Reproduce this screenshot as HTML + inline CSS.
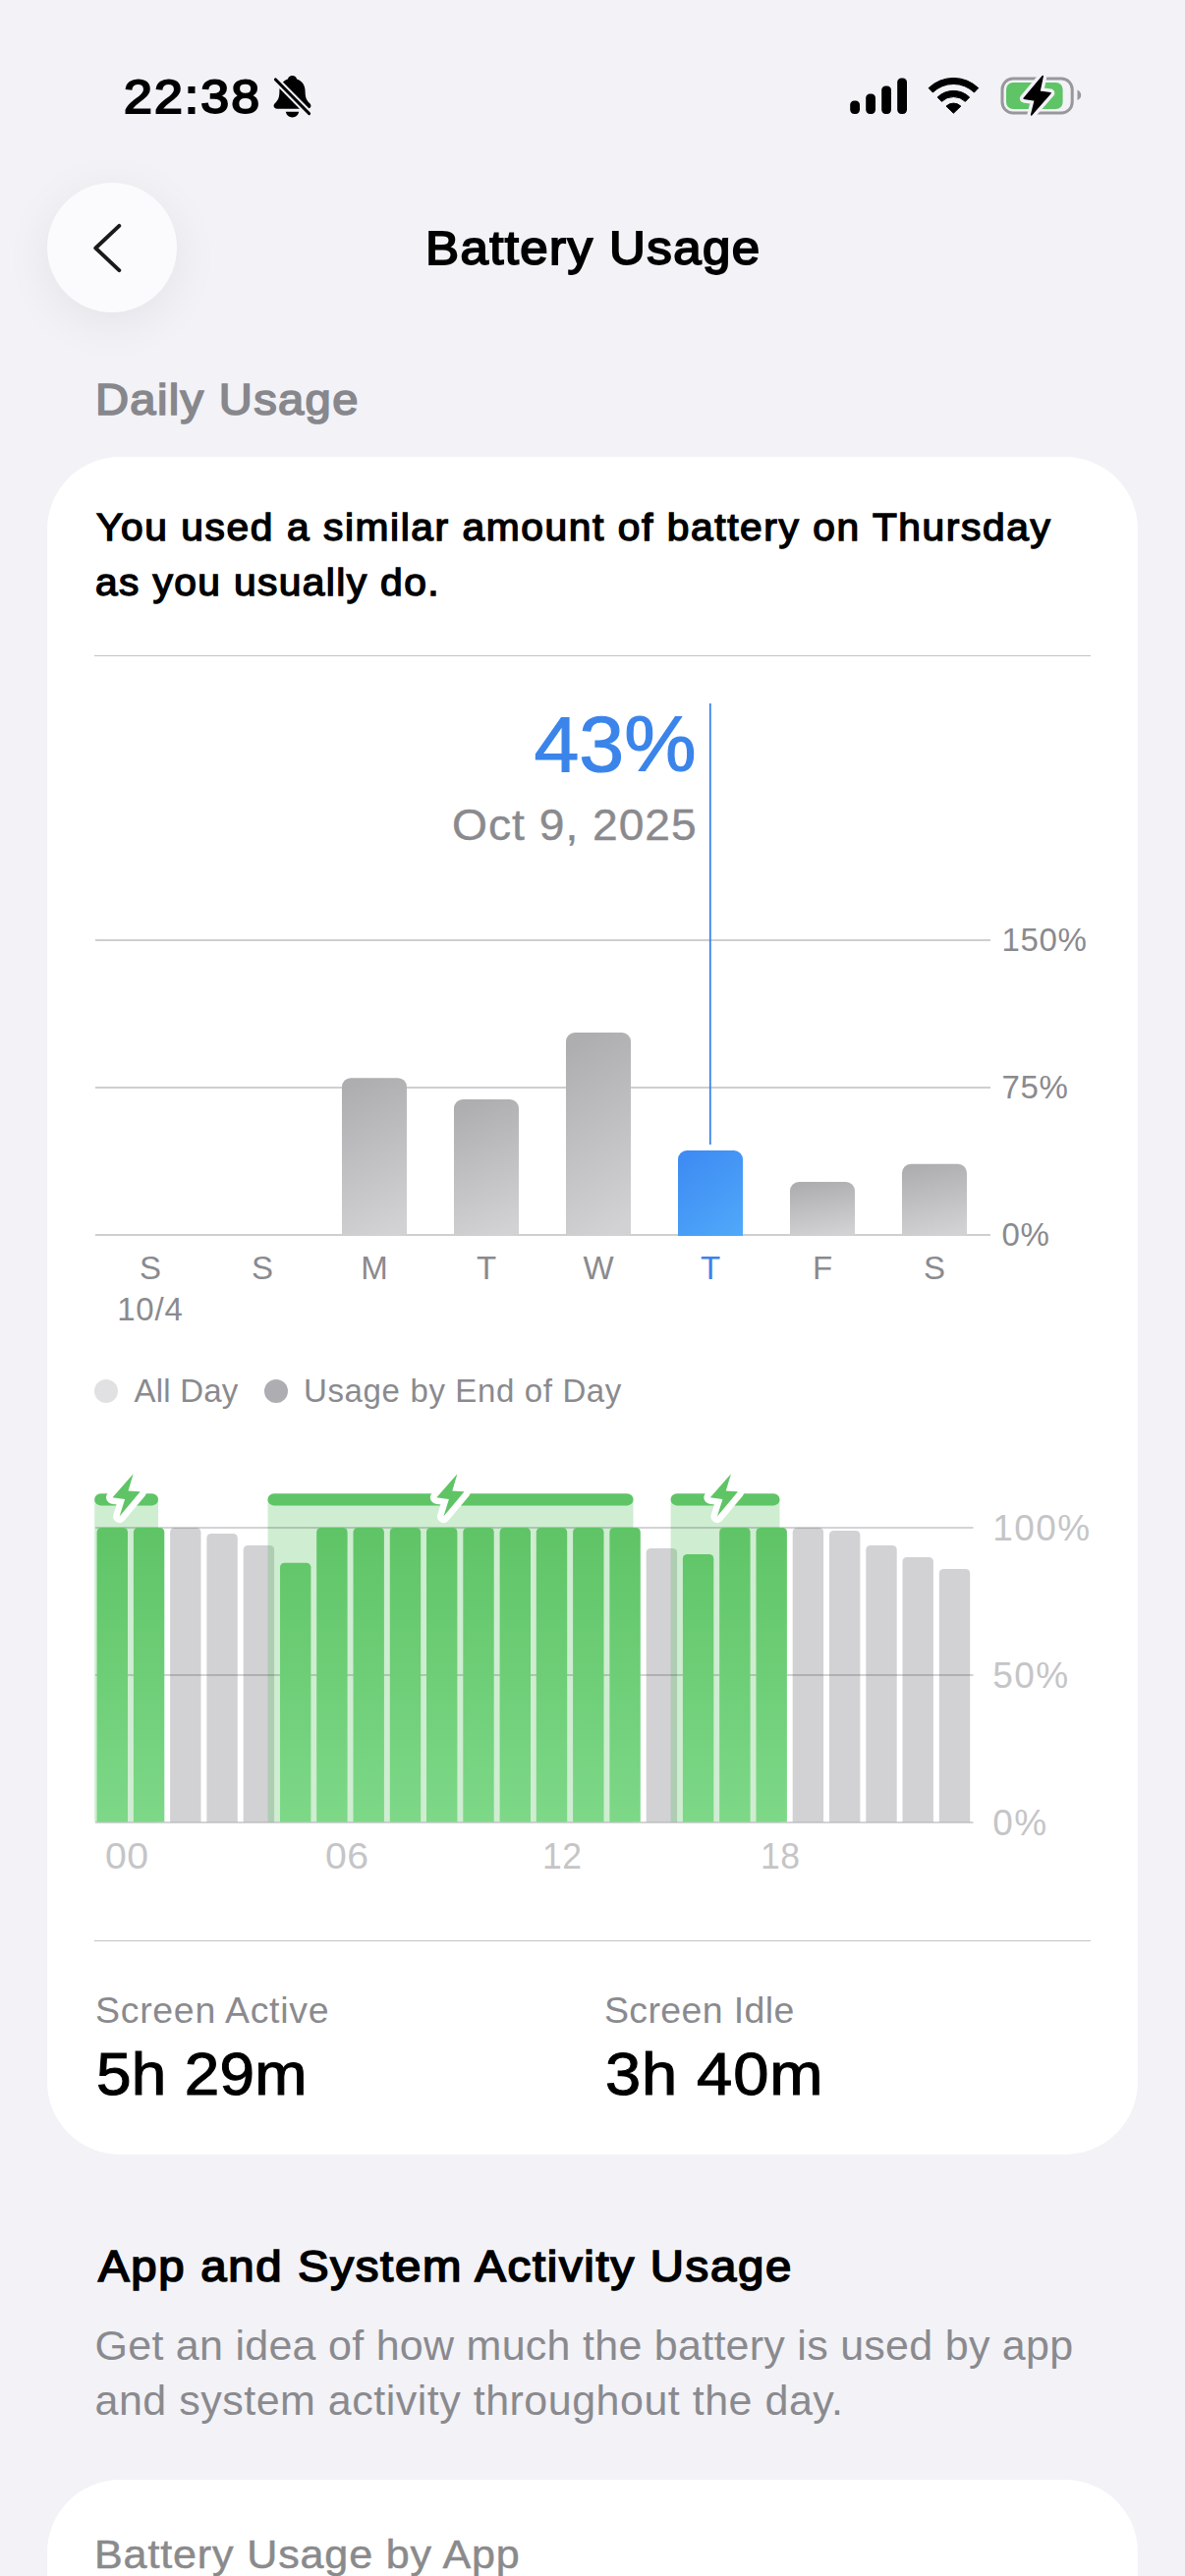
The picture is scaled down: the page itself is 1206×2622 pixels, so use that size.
<!DOCTYPE html>
<html lang="en">
<head>
<meta charset="utf-8">
<title>Battery Usage</title>
<style>
html,body{margin:0;padding:0;width:1206px;height:2622px;overflow:hidden;background:#f2f2f7;}
#root{width:1206px;height:2622px;position:relative;overflow:hidden;background:#f2f2f7;font-family:"Liberation Sans", sans-serif;}
.t{position:absolute;white-space:nowrap;}
.abs{position:absolute;}
.card{position:absolute;left:48px;width:1110px;background:#fff;border-radius:74px;}
.hl{position:absolute;height:2px;background:#cfcfd1;}
svg{position:absolute;overflow:visible;}
</style>
</head>
<body>
<div id="root">
<div class="t" style="top:69.1px;font-size:48.5px;line-height:58px;color:#000;font-weight:400;letter-spacing:1.92px;-webkit-text-stroke:2.0px #000;transform:scaleX(1.07);transform-origin:0 50%;left:126.3px;">22:38</div>
<svg style="left:276px;top:75px" width="46" height="46" viewBox="0 0 46 46">
<g transform="translate(21.5,2) scale(1.16,1.11) translate(-21.5,-3.2)"><path d="M21.5 3.2c2.1 0 3.6 1.3 3.9 3.1 5 1.6 7.4 6 7.4 11.6 0 5.2 1.2 7.9 3.6 10.3 1 1 1.4 1.8 1.4 2.7 0 1.6-1.2 2.6-3.2 2.6H8.4c-2 0-3.2-1-3.2-2.6 0-.9.4-1.700 1.400-2.700 2.400-2.400 3.600-5.100 3.600-10.300 0-5.600 2.400-10 7.400-11.600.3-1.800 1.800-3.100 3.900-3.100z" fill="#000"/>
<path d="M15.800 36.400h11.400c-.4 3-2.700 5-5.700 5s-5.300-2-5.700-5z" fill="#000"/></g>
<path d="M3 4.500L40 42" stroke="#f2f2f7" stroke-width="7" stroke-linecap="butt"/>
<path d="M4.500 6L38.500 40.500" stroke="#000" stroke-width="3.200" stroke-linecap="round"/>
</svg>
<svg style="left:865px;top:79px" width="58" height="37" viewBox="0 0 58 37">
<rect x="0.200" y="23.500" width="9.800" height="13.500" rx="4.200" fill="#000"/>
<rect x="16.200" y="16.500" width="9.800" height="20.500" rx="4.200" fill="#000"/>
<rect x="32.200" y="8.500" width="9.800" height="28.500" rx="4.200" fill="#000"/>
<rect x="48.200" y="0.500" width="9.800" height="36.500" rx="4.200" fill="#000"/>
</svg>
<svg style="left:945px;top:79px" width="51" height="37" viewBox="0 0 51 37">
<path d="M0.11 10.62A36.4 36.4 0 0 1 50.69 10.62L46.45 15.00A30.3 30.3 0 0 0 4.35 15.00z" fill="#000" stroke="#000" stroke-width="1" stroke-linejoin="round"/>
<path d="M9.14 19.97A23.4 23.4 0 0 1 41.66 19.97L37.42 24.36A17.3 17.3 0 0 0 13.38 24.36z" fill="#000" stroke="#000" stroke-width="1" stroke-linejoin="round"/>
<path d="M25.4 36.199999999999996L17.97 29.10A10.7 10.7 0 0 1 32.83 29.10z" fill="#000" stroke="#000" stroke-width="1" stroke-linejoin="round"/>
</svg>
<svg style="left:1018px;top:78px" width="84" height="40" viewBox="0 0 84 40">
<rect x="2" y="2" width="71.200" height="35" rx="11" fill="none" stroke="#98989c" stroke-width="3"/>
<path d="M78.500 13.500c2.400 1 3.700 3 3.700 5.300s-1.300 4.300-3.700 5.300z" fill="#98989c"/>
<rect x="6" y="6" width="57.600" height="27" rx="7" fill="#5fc466"/>
<path d="M43.200 -0.500L24.100 22.300l11.200 1.800L31.600 39 51.100 16.700l-11.200-1.400z" fill="#000" stroke="#f2f2f7" stroke-width="8.500" stroke-linejoin="round" paint-order="stroke"/>
<path d="M43.200 -0.500L24.100 22.300l11.200 1.800L31.600 39 51.100 16.700l-11.200-1.400z" fill="#000" stroke="#000" stroke-width="1.500" stroke-linejoin="round"/>
</svg>
<div class="abs" style="left:48px;top:186px;width:132px;height:132px;border-radius:66px;background:#fbfbfd;box-shadow:0 10px 50px rgba(0,0,0,0.065);"></div>
<svg style="left:90px;top:222px" width="40" height="60" viewBox="0 0 40 60">
<path d="M31.300 7.800L7.300 30.500 31.300 53.200" fill="none" stroke="#1a1a1a" stroke-width="3.900" stroke-linecap="round" stroke-linejoin="round"/>
</svg>
<div class="t" style="top:222.6px;font-size:48.6px;line-height:58px;color:#000;font-weight:400;letter-spacing:1.33px;-webkit-text-stroke:1.9px #000;transform:scaleX(1.05);transform-origin:0 50%;left:432.6px;">Battery Usage</div>
<div class="t" style="top:379.8px;font-size:44.9px;line-height:54px;color:#87878c;font-weight:400;letter-spacing:1.26px;-webkit-text-stroke:1.7px #87878c;transform:scaleX(1.05);transform-origin:0 50%;left:96.9px;">Daily Usage</div>
<div class="card" style="top:465px;height:1728px;"></div>
<div class="t" style="top:512.8px;font-size:38.8px;line-height:47px;color:#000;font-weight:400;letter-spacing:1.5px;-webkit-text-stroke:1.4px #000;transform:scaleX(1.05);transform-origin:0 50%;left:98px;">You used a similar amount of battery on Thursday</div>
<div class="t" style="top:569.2px;font-size:38.8px;line-height:47px;color:#000;font-weight:400;letter-spacing:1.31px;-webkit-text-stroke:1.4px #000;transform:scaleX(1.05);transform-origin:0 50%;left:97px;">as you usually do.</div>
<div class="hl" style="left:96px;top:667px;width:1014px;height:1px;background:#c3c3c5;"></div>
<div class="t" style="top:708.5px;font-size:80.2px;line-height:96px;color:#3a84ea;font-weight:400;-webkit-text-stroke:1.1px #3a84ea;transform:scaleX(1.028);transform-origin:100% 50%;right:497.7px;text-align:right;">43%</div>
<div class="t" style="top:812.7px;font-size:44px;line-height:53px;color:#8a8a8e;font-weight:400;letter-spacing:0.93px;-webkit-text-stroke:0.4px #8a8a8e;transform:scaleX(1.05);transform-origin:100% 50%;right:495.8px;text-align:right;">Oct 9, 2025</div>
<div class="hl" style="left:97px;top:956.0px;width:911px;"></div>
<div class="hl" style="left:97px;top:1106.0px;width:911px;"></div>
<div class="hl" style="left:97px;top:1256.0px;width:911px;"></div>
<div class="t" style="top:937.3px;font-size:33px;line-height:40px;color:#8a8a8e;font-weight:400;letter-spacing:0.63px;left:1019.5px;">150%</div>
<div class="t" style="top:1087.3px;font-size:33px;line-height:40px;color:#8a8a8e;font-weight:400;letter-spacing:0.63px;left:1019.5px;">75%</div>
<div class="t" style="top:1237.3px;font-size:33px;line-height:40px;color:#8a8a8e;font-weight:400;letter-spacing:0.63px;left:1019.5px;">0%</div>
<svg style="left:0;top:0" width="1206" height="1300" viewBox="0 0 1206 1300">
<defs>
<linearGradient id="gg" x1="0.4" y1="0" x2="0.6" y2="1"><stop offset="0" stop-color="#aeaeb1"/><stop offset="1" stop-color="#d2d2d5"/></linearGradient>
<linearGradient id="gb" gradientUnits="userSpaceOnUse" x1="690" y1="1171" x2="756" y2="1256"><stop offset="0" stop-color="#3d89f3"/><stop offset="1" stop-color="#4fa9f9"/></linearGradient>
</defs>
<path d="M348 1258V1106.2a9 9 0 0 1 9 -9H405a9 9 0 0 1 9 9V1258z" fill="url(#gg)"/>
<path d="M462 1258V1128a9 9 0 0 1 9 -9H519a9 9 0 0 1 9 9V1258z" fill="url(#gg)"/>
<path d="M576 1258V1060a9 9 0 0 1 9 -9H633a9 9 0 0 1 9 9V1258z" fill="url(#gg)"/>
<path d="M690 1258V1180a9 9 0 0 1 9 -9H747a9 9 0 0 1 9 9V1258z" fill="url(#gb)"/>
<path d="M804 1258V1212a9 9 0 0 1 9 -9H861a9 9 0 0 1 9 9V1258z" fill="url(#gg)"/>
<path d="M918 1258V1193.8a9 9 0 0 1 9 -9H975a9 9 0 0 1 9 9V1258z" fill="url(#gg)"/>
<rect x="721.900" y="716" width="1.800" height="449" fill="#3a84ea"/>
</svg>
<div class="t" style="top:1271.1px;font-size:33px;line-height:40px;color:#8a8a8e;font-weight:400;left:53.0px;width:200px;text-align:center;">S</div>
<div class="t" style="top:1271.1px;font-size:33px;line-height:40px;color:#8a8a8e;font-weight:400;left:167.0px;width:200px;text-align:center;">S</div>
<div class="t" style="top:1271.1px;font-size:33px;line-height:40px;color:#8a8a8e;font-weight:400;left:281.0px;width:200px;text-align:center;">M</div>
<div class="t" style="top:1271.1px;font-size:33px;line-height:40px;color:#8a8a8e;font-weight:400;left:395.0px;width:200px;text-align:center;">T</div>
<div class="t" style="top:1271.1px;font-size:33px;line-height:40px;color:#8a8a8e;font-weight:400;left:509.0px;width:200px;text-align:center;">W</div>
<div class="t" style="top:1271.1px;font-size:33px;line-height:40px;color:#3a84ea;font-weight:400;left:623.0px;width:200px;text-align:center;">T</div>
<div class="t" style="top:1271.1px;font-size:33px;line-height:40px;color:#8a8a8e;font-weight:400;left:737.0px;width:200px;text-align:center;">F</div>
<div class="t" style="top:1271.1px;font-size:33px;line-height:40px;color:#8a8a8e;font-weight:400;left:851.0px;width:200px;text-align:center;">S</div>
<div class="t" style="top:1312.6px;font-size:33px;line-height:40px;color:#8a8a8e;font-weight:400;letter-spacing:0.8px;left:52.9px;width:200px;text-align:center;">10/4</div>
<div class="abs" style="left:96px;top:1404px;width:24px;height:24px;border-radius:12px;background:#e1e1e3;"></div>
<div class="t" style="top:1395.8px;font-size:33px;line-height:40px;color:#8a8a8e;font-weight:400;letter-spacing:0.2px;left:136.5px;">All Day</div>
<div class="abs" style="left:269px;top:1404px;width:24px;height:24px;border-radius:12px;background:#aeaeb2;"></div>
<div class="t" style="top:1395.8px;font-size:33px;line-height:40px;color:#8a8a8e;font-weight:400;letter-spacing:0.64px;left:309px;">Usage by End of Day</div>
<svg style="left:0;top:0" width="1206" height="1900" viewBox="0 0 1206 1900">
<defs>
<linearGradient id="g2" gradientUnits="userSpaceOnUse" x1="0" y1="1555" x2="0" y2="1854"><stop offset="0" stop-color="#5fc466"/><stop offset="1" stop-color="#7dd888"/></linearGradient>
</defs>
<path d="M173.1 1854.5V1559.5a4.5 4.5 0 0 1 4.5 -4.5H200.0a4.5 4.5 0 0 1 4.5 4.5V1854.5z" fill="#d2d2d5"/>
<path d="M210.4 1854.5V1565.5a4.5 4.5 0 0 1 4.5 -4.5H237.3a4.5 4.5 0 0 1 4.5 4.5V1854.5z" fill="#d2d2d5"/>
<path d="M247.7 1854.5V1577.5a4.5 4.5 0 0 1 4.5 -4.5H274.6a4.5 4.5 0 0 1 4.5 4.5V1854.5z" fill="#d2d2d5"/>
<path d="M657.7 1854.5V1580.5a4.5 4.5 0 0 1 4.5 -4.5H684.6a4.5 4.5 0 0 1 4.5 4.5V1854.5z" fill="#d2d2d5"/>
<path d="M806.7 1854.5V1559.5a4.5 4.5 0 0 1 4.5 -4.5H833.6a4.5 4.5 0 0 1 4.5 4.5V1854.5z" fill="#d2d2d5"/>
<path d="M844.0 1854.5V1562.5a4.5 4.5 0 0 1 4.5 -4.5H870.9a4.5 4.5 0 0 1 4.5 4.5V1854.5z" fill="#d2d2d5"/>
<path d="M881.3 1854.5V1577.5a4.5 4.5 0 0 1 4.5 -4.5H908.2a4.5 4.5 0 0 1 4.5 4.5V1854.5z" fill="#d2d2d5"/>
<path d="M918.5 1854.5V1589.5a4.5 4.5 0 0 1 4.5 -4.5H945.4a4.5 4.5 0 0 1 4.5 4.5V1854.5z" fill="#d2d2d5"/>
<path d="M955.8 1854.5V1601.5a4.5 4.5 0 0 1 4.5 -4.5H982.7a4.5 4.5 0 0 1 4.5 4.5V1854.5z" fill="#d2d2d5"/>
<rect x="96.2" y="1526" width="64.8" height="328.5" fill="#5fc466" fill-opacity="0.3"/>
<rect x="272.5" y="1526" width="372.0" height="328.5" fill="#5fc466" fill-opacity="0.3"/>
<rect x="682.6" y="1526" width="110.9" height="328.5" fill="#5fc466" fill-opacity="0.3"/>
<rect x="97" y="1554.2" width="893.500" height="1.600" fill="#3c3c43" fill-opacity="0.28"/>
<rect x="97" y="1704.2" width="893.500" height="1.600" fill="#3c3c43" fill-opacity="0.28"/>
<rect x="97" y="1854.2" width="893.500" height="1.600" fill="#3c3c43" fill-opacity="0.28"/>
<path d="M98.6 1854.5V1559.5a4.5 4.5 0 0 1 4.5 -4.5H125.5a4.5 4.5 0 0 1 4.5 4.5V1854.5z" fill="url(#g2)"/>
<path d="M135.9 1854.5V1559.5a4.5 4.5 0 0 1 4.5 -4.5H162.8a4.5 4.5 0 0 1 4.5 4.5V1854.5z" fill="url(#g2)"/>
<path d="M285.0 1854.5V1595.3a4.5 4.5 0 0 1 4.5 -4.5H311.9a4.5 4.5 0 0 1 4.5 4.5V1854.5z" fill="url(#g2)"/>
<path d="M322.2 1854.5V1559.5a4.5 4.5 0 0 1 4.5 -4.5H349.1a4.5 4.5 0 0 1 4.5 4.5V1854.5z" fill="url(#g2)"/>
<path d="M359.5 1854.5V1559.5a4.5 4.5 0 0 1 4.5 -4.5H386.4a4.5 4.5 0 0 1 4.5 4.5V1854.5z" fill="url(#g2)"/>
<path d="M396.8 1854.5V1559.5a4.5 4.5 0 0 1 4.5 -4.5H423.7a4.5 4.5 0 0 1 4.5 4.5V1854.5z" fill="url(#g2)"/>
<path d="M434.0 1854.5V1559.5a4.5 4.5 0 0 1 4.5 -4.5H460.9a4.5 4.5 0 0 1 4.5 4.5V1854.5z" fill="url(#g2)"/>
<path d="M471.3 1854.5V1559.5a4.5 4.5 0 0 1 4.5 -4.5H498.2a4.5 4.5 0 0 1 4.5 4.5V1854.5z" fill="url(#g2)"/>
<path d="M508.6 1854.5V1559.5a4.5 4.5 0 0 1 4.5 -4.5H535.5a4.5 4.5 0 0 1 4.5 4.5V1854.5z" fill="url(#g2)"/>
<path d="M545.8 1854.5V1559.5a4.5 4.5 0 0 1 4.5 -4.5H572.7a4.5 4.5 0 0 1 4.5 4.5V1854.5z" fill="url(#g2)"/>
<path d="M583.1 1854.5V1559.5a4.5 4.5 0 0 1 4.5 -4.5H610.0a4.5 4.5 0 0 1 4.5 4.5V1854.5z" fill="url(#g2)"/>
<path d="M620.4 1854.5V1559.5a4.5 4.5 0 0 1 4.5 -4.5H647.3a4.5 4.5 0 0 1 4.5 4.5V1854.5z" fill="url(#g2)"/>
<path d="M694.9 1854.5V1586.5a4.5 4.5 0 0 1 4.5 -4.5H721.8a4.5 4.5 0 0 1 4.5 4.5V1854.5z" fill="url(#g2)"/>
<path d="M732.2 1854.5V1559.5a4.5 4.5 0 0 1 4.5 -4.5H759.1a4.5 4.5 0 0 1 4.5 4.5V1854.5z" fill="url(#g2)"/>
<path d="M769.5 1854.5V1559.5a4.5 4.5 0 0 1 4.5 -4.5H796.4a4.5 4.5 0 0 1 4.5 4.5V1854.5z" fill="url(#g2)"/>
<rect x="96.2" y="1520.200" width="64.8" height="12.200" rx="6.100" fill="#5fc466"/>
<path d="M135.6 1500.2L114.5 1524.2L127.1 1526.0L121.6 1543.6L142.7 1518.3L130.5 1517.5z" fill="#5fc466" stroke="#fff" stroke-width="13" stroke-linejoin="round" paint-order="stroke"/>
<rect x="272.5" y="1520.200" width="372.0" height="12.200" rx="6.100" fill="#5fc466"/>
<path d="M465.4 1500.2L444.3 1524.2L456.9 1526.0L451.4 1543.6L472.5 1518.3L460.3 1517.5z" fill="#5fc466" stroke="#fff" stroke-width="13" stroke-linejoin="round" paint-order="stroke"/>
<rect x="682.6" y="1520.200" width="110.9" height="12.200" rx="6.100" fill="#5fc466"/>
<path d="M743.9 1500.2L722.8 1524.2L735.4 1526.0L729.9 1543.6L751.0 1518.3L738.8 1517.5z" fill="#5fc466" stroke="#fff" stroke-width="13" stroke-linejoin="round" paint-order="stroke"/>
</svg>
<div class="t" style="top:1533.8px;font-size:37px;line-height:44px;color:#c5c5c7;font-weight:400;letter-spacing:1.43px;left:1010.2px;">100%</div>
<div class="t" style="top:1683.8px;font-size:37px;line-height:44px;color:#c5c5c7;font-weight:400;letter-spacing:1.43px;left:1010.2px;">50%</div>
<div class="t" style="top:1833.8px;font-size:37px;line-height:44px;color:#c5c5c7;font-weight:400;letter-spacing:1.43px;left:1010.2px;">0%</div>
<div class="t" style="top:1868.1px;font-size:37px;line-height:44px;color:#c5c5c7;font-weight:400;letter-spacing:0.5px;transform:scaleX(1.06);transform-origin:0 50%;left:107px;">00</div>
<div class="t" style="top:1868.1px;font-size:37px;line-height:44px;color:#c5c5c7;font-weight:400;letter-spacing:0.5px;transform:scaleX(1.06);transform-origin:0 50%;left:331px;">06</div>
<div class="t" style="top:1868.1px;font-size:37px;line-height:44px;color:#c5c5c7;font-weight:400;letter-spacing:0.5px;transform:scaleX(0.96);transform-origin:0 50%;left:551.5px;">12</div>
<div class="t" style="top:1868.1px;font-size:37px;line-height:44px;color:#c5c5c7;font-weight:400;letter-spacing:0.5px;transform:scaleX(0.96);transform-origin:0 50%;left:774px;">18</div>
<div class="hl" style="left:96px;top:1975px;width:1014px;height:1px;background:#c3c3c5;"></div>
<div class="t" style="top:2025.0px;font-size:36px;line-height:43px;color:#8a8a8e;font-weight:400;letter-spacing:0.69px;transform:scaleX(1.04);transform-origin:0 50%;left:97px;">Screen Active</div>
<div class="t" style="top:2074.0px;font-size:62px;line-height:74px;color:#000;font-weight:400;letter-spacing:0.28px;-webkit-text-stroke:1.1px #000;transform:scaleX(1.03);transform-origin:0 50%;left:98px;">5h 29m</div>
<div class="t" style="top:2025.0px;font-size:36px;line-height:43px;color:#8a8a8e;font-weight:400;letter-spacing:0.37px;transform:scaleX(1.04);transform-origin:0 50%;left:615px;">Screen Idle</div>
<div class="t" style="top:2074.0px;font-size:62px;line-height:74px;color:#000;font-weight:400;letter-spacing:0.83px;-webkit-text-stroke:1.1px #000;transform:scaleX(1.05);transform-origin:0 50%;left:615.8px;">3h 40m</div>
<div class="t" style="top:2279.5px;font-size:45.1px;line-height:54px;color:#000;font-weight:400;letter-spacing:1.61px;-webkit-text-stroke:1.7px #000;transform:scaleX(1.05);transform-origin:0 50%;left:99.6px;">App and System Activity Usage</div>
<div class="t" style="top:2360.6px;font-size:43px;line-height:52px;color:#8a8a8e;font-weight:400;letter-spacing:0.27px;left:96.5px;">Get an idea of how much the battery is used by app</div>
<div class="t" style="top:2417.1px;font-size:43px;line-height:52px;color:#8a8a8e;font-weight:400;letter-spacing:0.5px;left:96.5px;">and system activity throughout the day.</div>
<div class="card" style="top:2523.500px;height:98.500px;border-radius:74px 74px 0 0;"></div>
<div class="t" style="top:2576.1px;font-size:41px;line-height:49px;color:#8a8a8c;font-weight:400;letter-spacing:0.82px;-webkit-text-stroke:0.5px #8a8a8c;transform:scaleX(1.05);transform-origin:0 50%;left:96px;">Battery Usage by App</div>
</div>
</body>
</html>
